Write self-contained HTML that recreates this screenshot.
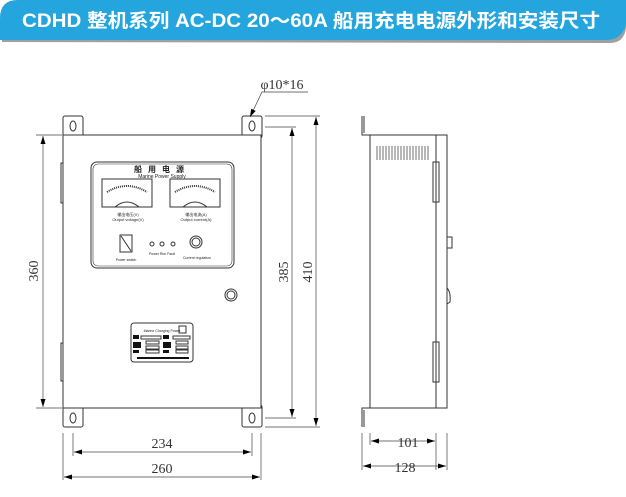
<!DOCTYPE html>
<html><head><meta charset="utf-8"><style>
body{margin:0;width:626px;height:492px;background:#fff;overflow:hidden}
</style></head><body>
<svg width="626" height="492" viewBox="0 0 626 492" xmlns="http://www.w3.org/2000/svg" font-family="Liberation Serif, serif">
<defs><marker id="a" markerWidth="8" markerHeight="6" refX="8" refY="3" orient="auto-start-reverse" markerUnits="userSpaceOnUse"><path d="M0,0.5 L8,3 L0,5.5z" fill="#000"/></marker></defs>
<!-- banner -->
<path d="M2,42 L2,20 Q2,2 20,2 L626,2 L626,28 Q624,43 610,43 Z" fill="#a0a0a0"/>
<path d="M0,40 L0,18 Q0,0 18,0 L626,0 L626,24 Q622,40 606,40 Z" fill="#24a5de"/>
<text x="22" y="27" fill="#fff" font-family="Liberation Sans Narrow, Liberation Sans, Noto Sans CJK SC, sans-serif" font-size="19" font-weight="bold" textLength="578" lengthAdjust="spacingAndGlyphs">CDHD 整机系列 AC-DC 20～60A 船用充电电源外形和安装尺寸</text>
<g fill="none" stroke="#333" stroke-width="1">
<!-- front tabs -->
<rect x="63" y="116" width="20" height="22" rx="2"/><rect x="242" y="116" width="20" height="22" rx="2"/>
<rect x="63" y="405" width="20" height="22" rx="2"/><rect x="242" y="405" width="20" height="22" rx="2"/>
<ellipse cx="73" cy="126" rx="3" ry="5"/><ellipse cx="252" cy="126" rx="3" ry="5"/>
<ellipse cx="73" cy="418" rx="3" ry="5"/><ellipse cx="252" cy="418" rx="3" ry="5"/>
<rect x="63" y="135" width="198" height="273" fill="#fff"/>
<rect x="61" y="163" width="2" height="40"/><rect x="61" y="343" width="2" height="38"/>
<!-- panel -->
<rect x="91" y="162" width="143" height="106" rx="6"/>
<rect x="93" y="164" width="139" height="102" rx="5" stroke-width="0.6"/>
<rect x="102" y="179" width="50" height="28"/><rect x="170" y="179" width="50" height="28"/>
<path d="M107,192 Q127,180 147,192 M175,192 Q195,180 215,192" stroke-dasharray="1 1" stroke-width="2"/>
<path d="M115,207 Q127,197 139,207 M183,207 Q195,197 207,207"/>
<rect x="120" y="235" width="12" height="17"/><path d="M121,236 L131,251"/>
<circle cx="152" cy="244" r="2"/><circle cx="162" cy="244" r="2"/><circle cx="173" cy="244" r="2"/>
<circle cx="196" cy="242" r="6"/><circle cx="196" cy="242" r="4"/>
<circle cx="231" cy="295" r="6"/><circle cx="231" cy="295" r="4"/>
<!-- nameplate -->
<rect x="131" y="323" width="62" height="39" rx="3"/>
<rect x="179" y="326" width="7" height="7"/>
<rect x="141" y="336" width="20" height="3"/><rect x="173" y="336" width="17" height="3"/>
<rect x="146" y="341" width="13" height="3"/><rect x="176" y="341" width="12" height="3"/>
<rect x="146" y="346" width="13" height="3"/><rect x="176" y="346" width="12" height="3"/>
<rect x="146" y="350" width="13" height="3"/><rect x="176" y="350" width="12" height="3"/>
</g>
<g fill="#111">
<rect x="133" y="335" width="6" height="4"/><rect x="163" y="335" width="6" height="4"/>
<rect x="133" y="342" width="8" height="6"/><rect x="163" y="342" width="8" height="6"/>
<rect x="133" y="350" width="6" height="3"/><rect x="163" y="350" width="6" height="3"/>
<rect x="137" y="357" width="52" height="2"/>
</g>
<g font-family="Liberation Sans, Noto Sans CJK SC, sans-serif" fill="#222">
<text x="162" y="172" font-size="8" text-anchor="middle" font-weight="bold" letter-spacing="6">船用电源</text>
<text x="162" y="178" font-size="5" text-anchor="middle">Marine Power Supply</text>
<text x="128" y="216" font-size="4" text-anchor="middle">输出电压(V)</text>
<text x="128" y="221" font-size="4" text-anchor="middle">Output voltage(V)</text>
<text x="196" y="216" font-size="4" text-anchor="middle">输出电流(A)</text>
<text x="196" y="221" font-size="4" text-anchor="middle">Output current(A)</text>
<text x="126" y="261" font-size="3.5" text-anchor="middle">Power switch</text>
<text x="162" y="255" font-size="3.5" text-anchor="middle">Power  Run  Fault</text>
<text x="197" y="259" font-size="3.5" text-anchor="middle">Current regulation</text>
<text x="162" y="332" font-size="3.5" text-anchor="middle">Marine Charging Power</text>
</g>
<!-- side view -->
<g fill="none" stroke="#333" stroke-width="1">
<path d="M362,116 L362,135 L370,135 M362,427 L362,408 L370,408"/>
<path d="M364,116 L364,133 M364,427 L364,410"/>
<rect x="370" y="135" width="77" height="273"/>
<line x1="436" y1="135" x2="436" y2="408"/>
<rect x="433" y="162" width="6" height="40"/><rect x="433" y="342" width="6" height="40"/>
<path d="M447,237 L452,237 L452,248 L447,248 M447,288 Q451,292 450,302 L447,304"/>
<path d="M377,146 v14 M380,146 v14 M383,146 v14 M386,146 v14 M389,146 v14 M392,146 v14 M395,146 v14 M398,146 v14 M401,146 v14 M404,146 v14 M407,146 v14 M410,146 v14 M413,146 v14 M416,146 v14 M419,146 v14 M422,146 v14 M425,146 v14 M428,146 v14" stroke-width="0.7"/>
</g>
<!-- dimensions -->
<g stroke="#444" stroke-width="0.7" fill="none">
<line x1="36" y1="135" x2="62" y2="135"/><line x1="36" y1="408" x2="62" y2="408"/>
<line x1="43" y1="136" x2="43" y2="407" marker-start="url(#a)" marker-end="url(#a)"/>
<line x1="265" y1="127" x2="296" y2="127"/><line x1="265" y1="418" x2="296" y2="418"/>
<line x1="292" y1="128" x2="292" y2="417" marker-start="url(#a)" marker-end="url(#a)"/>
<line x1="265" y1="116" x2="320" y2="116"/><line x1="265" y1="427" x2="320" y2="427"/>
<line x1="316" y1="117" x2="316" y2="426" marker-start="url(#a)" marker-end="url(#a)"/>
<line x1="73" y1="433" x2="73" y2="456"/><line x1="252" y1="433" x2="252" y2="456"/>
<line x1="74" y1="452" x2="251" y2="452" marker-start="url(#a)" marker-end="url(#a)"/>
<line x1="63" y1="433" x2="63" y2="480"/><line x1="261" y1="433" x2="261" y2="480"/>
<line x1="64" y1="477" x2="260" y2="477" marker-start="url(#a)" marker-end="url(#a)"/>
<line x1="370" y1="433" x2="370" y2="445"/><line x1="436" y1="433" x2="436" y2="470"/>
<line x1="371" y1="441" x2="435" y2="441" marker-start="url(#a)" marker-end="url(#a)"/>
<line x1="362" y1="433" x2="362" y2="470"/><line x1="447" y1="433" x2="447" y2="470"/>
<line x1="363" y1="466" x2="446" y2="466" marker-start="url(#a)" marker-end="url(#a)"/>
<path d="M250,117 L262,92 L308,92" marker-start="url(#a)"/>
</g>
<g font-size="14" fill="#333" text-anchor="middle">
<text x="282" y="89">φ10*16</text>
<text x="162" y="448">234</text>
<text x="162" y="473">260</text>
<text x="408" y="447">101</text>
<text x="405" y="472">128</text>
<text transform="translate(38,271) rotate(-90)">360</text>
<text transform="translate(288,272) rotate(-90)">385</text>
<text transform="translate(312,272) rotate(-90)">410</text>
</g>
</svg>
</body></html>
